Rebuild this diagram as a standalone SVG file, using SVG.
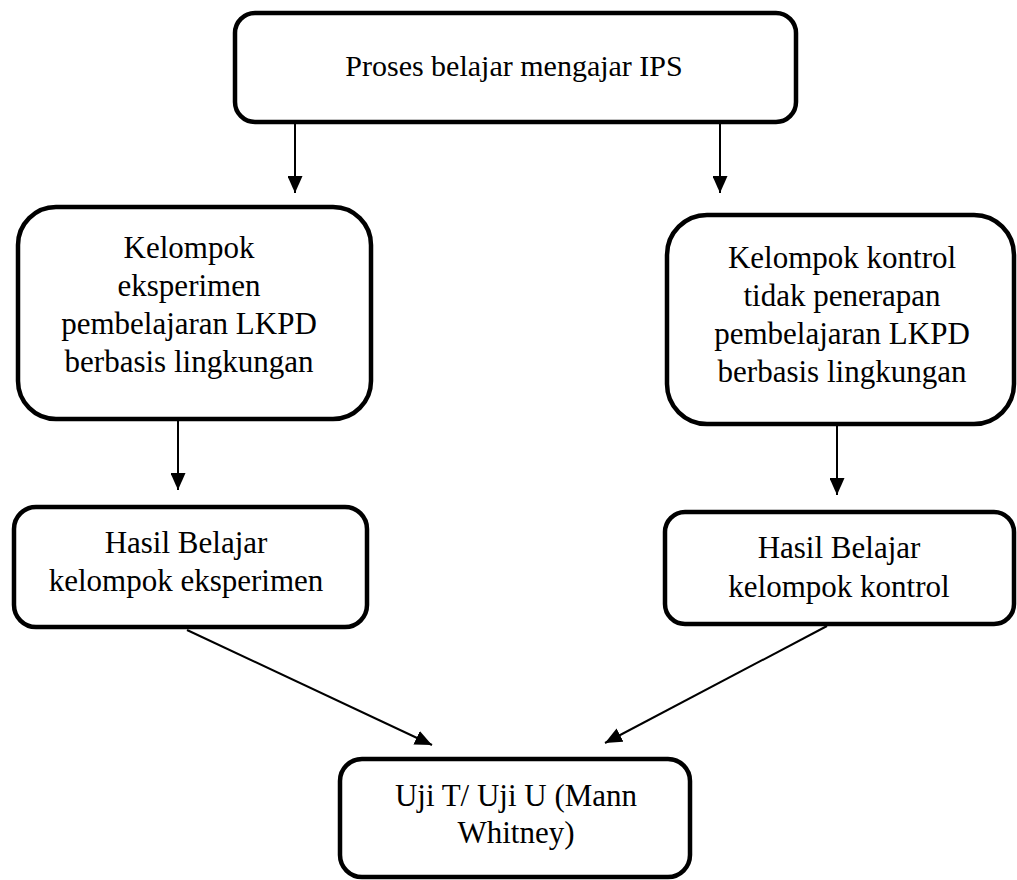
<svg xmlns="http://www.w3.org/2000/svg" width="1017" height="880" viewBox="0 0 1017 880">
<style>
.box{fill:#fff;stroke:#000;stroke-width:4.5}
.t{font-family:"Liberation Serif","Times New Roman",serif;font-size:31px;fill:#000;text-anchor:middle}
.c{stroke:#000;stroke-width:2;fill:none;marker-end:url(#ah)}
</style>
<defs>
<marker id="ah" markerUnits="userSpaceOnUse" markerWidth="17" markerHeight="15" refX="17" refY="7.5" orient="auto">
<path d="M0,0 L17,7.5 L0,15 z" fill="#000"/>
</marker>
</defs>
<rect width="1017" height="880" fill="#fff"/>
<g id="n-proses">
<rect class="box" x="235" y="13" width="561" height="109" rx="20"/>
<text class="t" x="514" y="76" style="font-size:30px">Proses belajar mengajar IPS</text>
</g>
<g id="n-eksperimen">
<rect class="box" x="18" y="207" width="353" height="212" rx="38"/>
<text class="t" x="189" y="258">Kelompok</text>
<text class="t" x="189" y="296">eksperimen</text>
<text class="t" x="189" y="334">pembelajaran LKPD</text>
<text class="t" x="189" y="372">berbasis lingkungan</text>
</g>
<g id="n-kontrol">
<rect class="box" x="667" y="215" width="347" height="209" rx="40"/>
<text class="t" x="842" y="268">Kelompok kontrol</text>
<text class="t" x="842" y="306">tidak penerapan</text>
<text class="t" x="842" y="344">pembelajaran LKPD</text>
<text class="t" x="842" y="382">berbasis lingkungan</text>
</g>
<g id="n-hasil-eksperimen">
<rect class="box" x="14" y="507" width="353" height="120" rx="22"/>
<text class="t" x="186" y="553">Hasil Belajar</text>
<text class="t" x="186" y="591">kelompok eksperimen</text>
</g>
<g id="n-hasil-kontrol">
<rect class="box" x="665" y="512" width="349" height="112" rx="20"/>
<text class="t" x="839" y="558">Hasil Belajar</text>
<text class="t" x="839" y="597">kelompok kontrol</text>
</g>
<g id="n-uji">
<rect class="box" x="340" y="759" width="350" height="118" rx="22"/>
<text class="t" x="516" y="806">Uji T/ Uji U (Mann</text>
<text class="t" x="516" y="843">Whitney)</text>
</g>
<g id="connectors">
<line class="c" x1="295" y1="124" x2="295" y2="193"/>
<line class="c" x1="720" y1="124" x2="720" y2="193"/>
<line class="c" x1="178" y1="421" x2="178" y2="490"/>
<line class="c" x1="837" y1="426" x2="837" y2="495"/>
<line class="c" x1="187" y1="630" x2="432" y2="745"/>
<line class="c" x1="827" y1="626" x2="605" y2="743"/>
</g>
</svg>
